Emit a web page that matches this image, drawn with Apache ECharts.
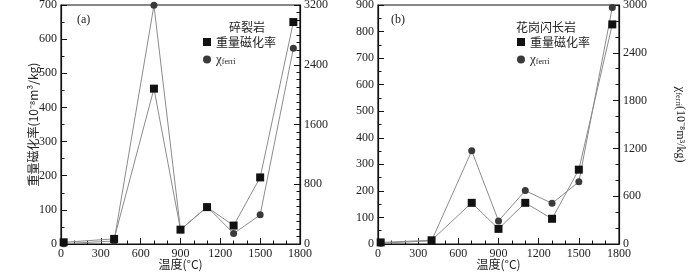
<!DOCTYPE html>
<html><head><meta charset="utf-8">
<script src="https://cdn.jsdelivr.net/npm/echarts@6/dist/echarts.min.js"></script>
<style>html,body{margin:0;padding:0;background:#fff}#c{width:700px;height:273px}</style>
</head><body><div id="c"></div>
<script>
var temps = [20, 400, 700, 900, 1100, 1300, 1500, 1750];
var massA = [5, 15, 455, 42, 108, 54, 195, 650];
var ferriA = [5, 40, 3195, 190, 500, 140, 390, 2620];
var massB = [6, 14, 155, 57, 155, 95, 280, 827];
var ferriB = [10, 40, 1170, 290, 670, 510, 780, 2970];
var nameMass = '重量磁化率';
var nameFerri = 'χferri';

var FONT = '"Liberation Serif", "Times New Roman", "Noto Sans CJK SC", serif';
var CJK = '"Noto Sans CJK SC", "Liberation Serif", serif';
function pairs(xs, ys){ return xs.map(function(x,i){ return [x, ys[i]]; }); }
function plain(v){ return String(v); }

var chart = echarts.init(document.getElementById('c'), null, {renderer:'canvas'});
var axisCommon = {
  axisLine:{show:true, onZero:false, lineStyle:{color:'#111', width:1.2}},
  axisTick:{show:true, inside:true, length:6, lineStyle:{color:'#111', width:1}},
  minorTick:{show:true, length:3.5, lineStyle:{color:'#111', width:1}},
  splitLine:{show:false},
  nameMoveOverlap:false,
  axisLabel:{color:'#222', fontFamily:FONT, fontSize:12, formatter:plain}
};
function xAxisDef(gi){
  return Object.assign({}, axisCommon, {
    type:'value', gridIndex:gi, min:0, max:1800, interval:300,
    minorTick:Object.assign({}, axisCommon.minorTick, {splitNumber:3}),
    axisLabel:Object.assign({}, axisCommon.axisLabel, {margin:4}),
    name:'温度(°C)', nameLocation:'middle', nameGap:14,
    nameTextStyle:{color:'#222', fontFamily:CJK, fontSize:12}
  });
}
function yAxisDef(gi, max, interval, minorSplit, pos, name, gap, rot){
  var d = Object.assign({}, axisCommon, {
    type:'value', gridIndex:gi, min:0, max:max, interval:interval, position:pos,
    minorTick:Object.assign({}, axisCommon.minorTick, {splitNumber:minorSplit}),
    axisLabel:Object.assign({}, axisCommon.axisLabel, {margin:4})
  });
  if (name) {
    d.name = name; d.nameLocation='middle'; d.nameGap=gap; d.nameRotate=rot;
    d.nameTextStyle = {color:'#222', fontFamily:CJK, fontSize:12,
      rich:{c:{fontFamily:FONT, fontSize:13, color:'#222'}, s:{fontFamily:FONT, fontSize:8, color:'#222', padding:[5,0,0,0]}, t:{fontFamily:FONT, fontSize:12, color:'#222'}}};
  }
  return d;
}
var richLegend = {c:{fontFamily:FONT, fontSize:13, color:'#222'}, s:{fontFamily:FONT, fontSize:8, color:'#222', padding:[5,0,0,0]}};
function legendFmt(n){ return n === nameFerri ? '{c|χ}{s|ferri}' : n; }
function seriesDef(name, xi, yi, ys, sym, size, col){
  return {type:'line', name:name, xAxisIndex:xi, yAxisIndex:yi, data:pairs(temps, ys),
    symbol:sym, symbolSize:size, showSymbol:true,
    itemStyle:{color:col}, lineStyle:{color:'#8c8c8c', width:1}, z: sym==='rect'?3:2, animation:false};
}
var option = {
  animation:false,
  grid:[
    {left:61, right:400, top:5, bottom:29, show:true, borderColor:'#111', borderWidth:1.2, containLabel:false, outerBoundsMode:'none'},
    {left:378, right:81, top:5, bottom:29, show:true, borderColor:'#111', borderWidth:1.2, containLabel:false, outerBoundsMode:'none'}
  ],
  xAxis:[xAxisDef(0), xAxisDef(1)],
  yAxis:[
    yAxisDef(0, 700, 100, 2, 'left', '重量磁化率(10⁻⁸m³/kg)', 22, 90),
    yAxisDef(0, 3200, 800, 8, 'right', null),
    yAxisDef(1, 900, 100, 2, 'left', null),
    yAxisDef(1, 3000, 600, 3, 'right', '{c|χ}{s|ferri}{t|(10⁻⁸m³/kg)}', 55, -90)
  ],
  title:[
    {text:'(a)', left:72, top:9, textStyle:{fontFamily:FONT, fontSize:12, fontWeight:'normal', color:'#222'}},
    {text:'碎裂岩', left:224, top:16, textStyle:{fontFamily:CJK, fontSize:12, fontWeight:'normal', color:'#222'}},
    {text:'(b)', left:386, top:9, textStyle:{fontFamily:FONT, fontSize:12, fontWeight:'normal', color:'#222'}},
    {text:'花岗闪长岩', left:511, top:16, textStyle:{fontFamily:CJK, fontSize:12, fontWeight:'normal', color:'#222'}}
  ],
  legend:[
    {left:198, top:31, orient:'vertical', itemWidth:8, itemHeight:8, itemGap:5, selectedMode:false,
     data:[{name:nameMass, icon:'rect'}, {name:nameFerri, icon:'circle'}],
     formatter:legendFmt, textStyle:{fontFamily:CJK, fontSize:12, color:'#222', rich:richLegend}},
    {left:512, top:31, orient:'vertical', itemWidth:8, itemHeight:8, itemGap:5, selectedMode:false,
     data:[{name:nameMass, icon:'rect'}, {name:nameFerri, icon:'circle'}],
     formatter:legendFmt, textStyle:{fontFamily:CJK, fontSize:12, color:'#222', rich:richLegend}}
  ],
  series:[
    seriesDef(nameMass, 0, 0, massA, 'rect', 8, '#111'),
    seriesDef(nameFerri, 0, 1, ferriA, 'circle', 7, '#3a3a3a'),
    seriesDef(nameMass, 1, 2, massB, 'rect', 8, '#111'),
    seriesDef(nameFerri, 1, 3, ferriB, 'circle', 7, '#3a3a3a')
  ]
};
chart.setOption(option);
</script></body></html>
